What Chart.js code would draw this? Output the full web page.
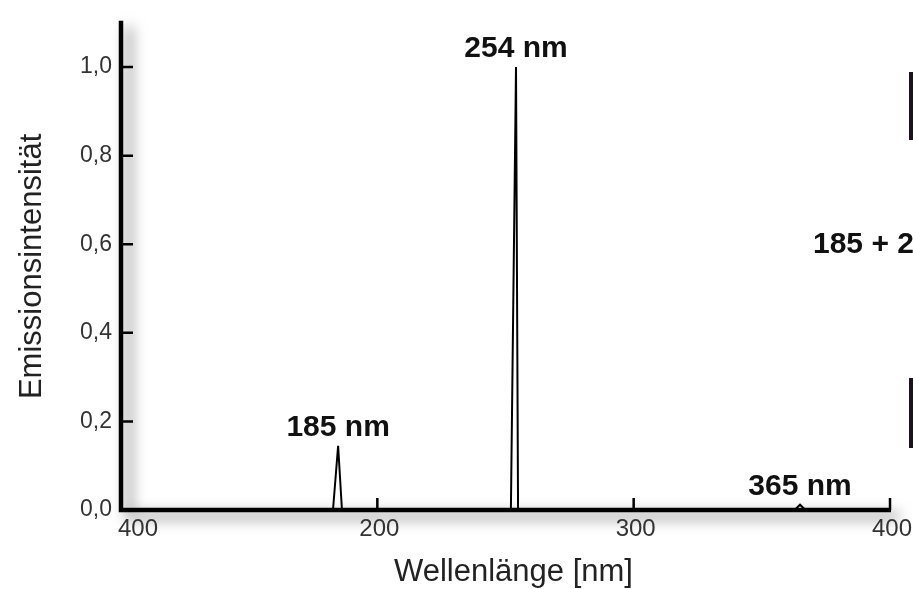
<!DOCTYPE html>
<html>
<head>
<meta charset="utf-8">
<script src="https://cdn.jsdelivr.net/npm/chart.js@4.4.0/dist/chart.umd.min.js"></script>
<style>
    html, body { margin: 0; padding: 0; background: #fff; overflow: hidden; }
    #wrap { position: relative; width: 913px; height: 589px; overflow: hidden; }
    #chart { position: absolute; left: 0; top: 0; }
    .side-label { position: absolute; left: 813px; top: 228px; font: bold 30px "Liberation Sans", Arial, sans-serif; line-height: 30px; color: #111; white-space: nowrap; }
    .side-bar { position: absolute; left: 909px; width: 8px; background: #1c111c; }
</style>
</head>
<body>
<div id="wrap">
    <canvas id="chart" width="913" height="589"></canvas>
    <div class="side-label">185 + 254 nm</div>
    <div class="side-bar" style="top:72px;height:68px"></div>
    <div class="side-bar" style="top:378px;height:70px"></div>
</div>
<script>
        // spectrum (nm, relative intensity)
        const wavelengths = [100, 182.7, 184.7, 186.2, 252.1, 254.1, 254.9, 362.8, 364.9, 367.0, 400];
        const intensity   = [0,   0,     0.145, 0,     0,     1.0,   0,     0,     0.012, 0,     0];

        // which points carry a label
        const peakIndex = [2, 5, 8];
        const peakNames = ['185 nm', '254 nm', '365 nm'];

        const xTicks = [100, 200, 300, 400];
        const xTickLabels = ['400', '200', '300', '400'];
        const yTicks = [0, 0.2, 0.4, 0.6, 0.8, 1.0];

        const FONT = '"Liberation Sans", Arial, Helvetica, sans-serif';

        const axisDecor = {
            id: 'axisDecor',
            beforeDatasetsDraw(chart) {
                const { ctx, chartArea: a, scales: { x, y } } = chart;

                // axis lines with soft drop shadow
                ctx.save();
                ctx.shadowColor = 'rgba(0, 0, 0, 0.6)';
                ctx.shadowBlur = 14;
                ctx.shadowOffsetX = 8;
                ctx.shadowOffsetY = 6;
                ctx.strokeStyle = '#000';
                ctx.lineWidth = 4.5;
                ctx.beginPath();
                ctx.moveTo(a.left, a.top - 2);
                ctx.lineTo(a.left, a.bottom);
                ctx.lineTo(a.right + 1, a.bottom);
                ctx.stroke();
                ctx.restore();

                // inward tick marks
                ctx.save();
                ctx.strokeStyle = '#000';
                ctx.lineWidth = 2.5;
                ctx.beginPath();
                yTicks.slice(1).forEach(v => {
                    const py = y.getPixelForValue(v);
                    ctx.moveTo(a.left, py);
                    ctx.lineTo(a.left + 12, py);
                });
                xTicks.slice(1).forEach(v => {
                    const px = x.getPixelForValue(v);
                    ctx.moveTo(px, a.bottom);
                    ctx.lineTo(px, a.bottom - 12);
                });
                ctx.stroke();

                // x tick labels (first one sits right of the corner)
                ctx.fillStyle = '#333';
                ctx.font = '24px ' + FONT;
                ctx.textBaseline = 'middle';
                xTicks.forEach((v, i) => {
                    const px = x.getPixelForValue(v);
                    ctx.textAlign = i === 0 ? 'left' : 'center';
                    ctx.fillText(xTickLabels[i], i === 0 ? px - 3 : px + 2, a.bottom + 19);
                });

                // x axis title, drawn here so it can sit a little right of centre
                ctx.fillStyle = '#222';
                ctx.font = '31px ' + FONT;
                ctx.textAlign = 'center';
                ctx.fillText('Wellenlänge [nm]', (a.left + a.right) / 2 + 8, a.bottom + 62);
                ctx.restore();
            },
            afterDatasetsDraw(chart) {
                const { ctx, scales: { x, y } } = chart;
                ctx.save();
                ctx.fillStyle = '#111';
                ctx.font = 'bold 30px ' + FONT;
                ctx.textAlign = 'center';
                ctx.textBaseline = 'alphabetic';
                peakIndex.forEach((idx, i) => {
                    const px = x.getPixelForValue(wavelengths[idx]);
                    const py = y.getPixelForValue(intensity[idx]);
                    ctx.fillText(peakNames[i], px, py - 10);
                });
                ctx.restore();
            }
        };

        document.addEventListener('DOMContentLoaded', () => {
            const ctx = document.getElementById('chart').getContext('2d');
            new Chart(ctx, {
                type: 'line',
                data: {
                    datasets: [{
                        data: wavelengths.map((w, i) => ({ x: w, y: intensity[i] })),
                        borderColor: '#000',
                        borderWidth: 2,
                        pointRadius: 0,
                        tension: 0,
                        fill: false
                    }]
                },
                options: {
                    responsive: false,
                    animation: false,
                    layout: { padding: { left: 0, top: 13, right: 23, bottom: 0 } },
                    plugins: { legend: { display: false }, tooltip: { enabled: false } },
                    scales: {
                        x: {
                            type: 'linear',
                            min: 100,
                            max: 400,
                            afterBuildTicks: s => { s.ticks = xTicks.map(v => ({ value: v })); },
                            afterFit: s => { s.height = 79; },
                            grid: { display: false, drawTicks: false },
                            border: { display: false },
                            ticks: { display: false }
                        },
                        y: {
                            min: 0,
                            max: 1.1,
                            afterBuildTicks: s => { s.ticks = yTicks.map(v => ({ value: v })); },
                            afterFit: s => { s.width = 121; },
                            grid: { display: false, drawTicks: false },
                            border: { display: false },
                            ticks: {
                                color: '#333',
                                padding: 9,
                                font: { family: FONT, size: 23 },
                                callback: v => v.toFixed(1).replace('.', ',')
                            },
                            title: {
                                display: true,
                                text: 'Emissionsintensität',
                                color: '#222',
                                font: { family: FONT, size: 31 },
                                padding: { top: 14, bottom: 0 }
                            }
                        }
                    }
                },
                plugins: [axisDecor]
            });
        });
</script>
</body>
</html>
